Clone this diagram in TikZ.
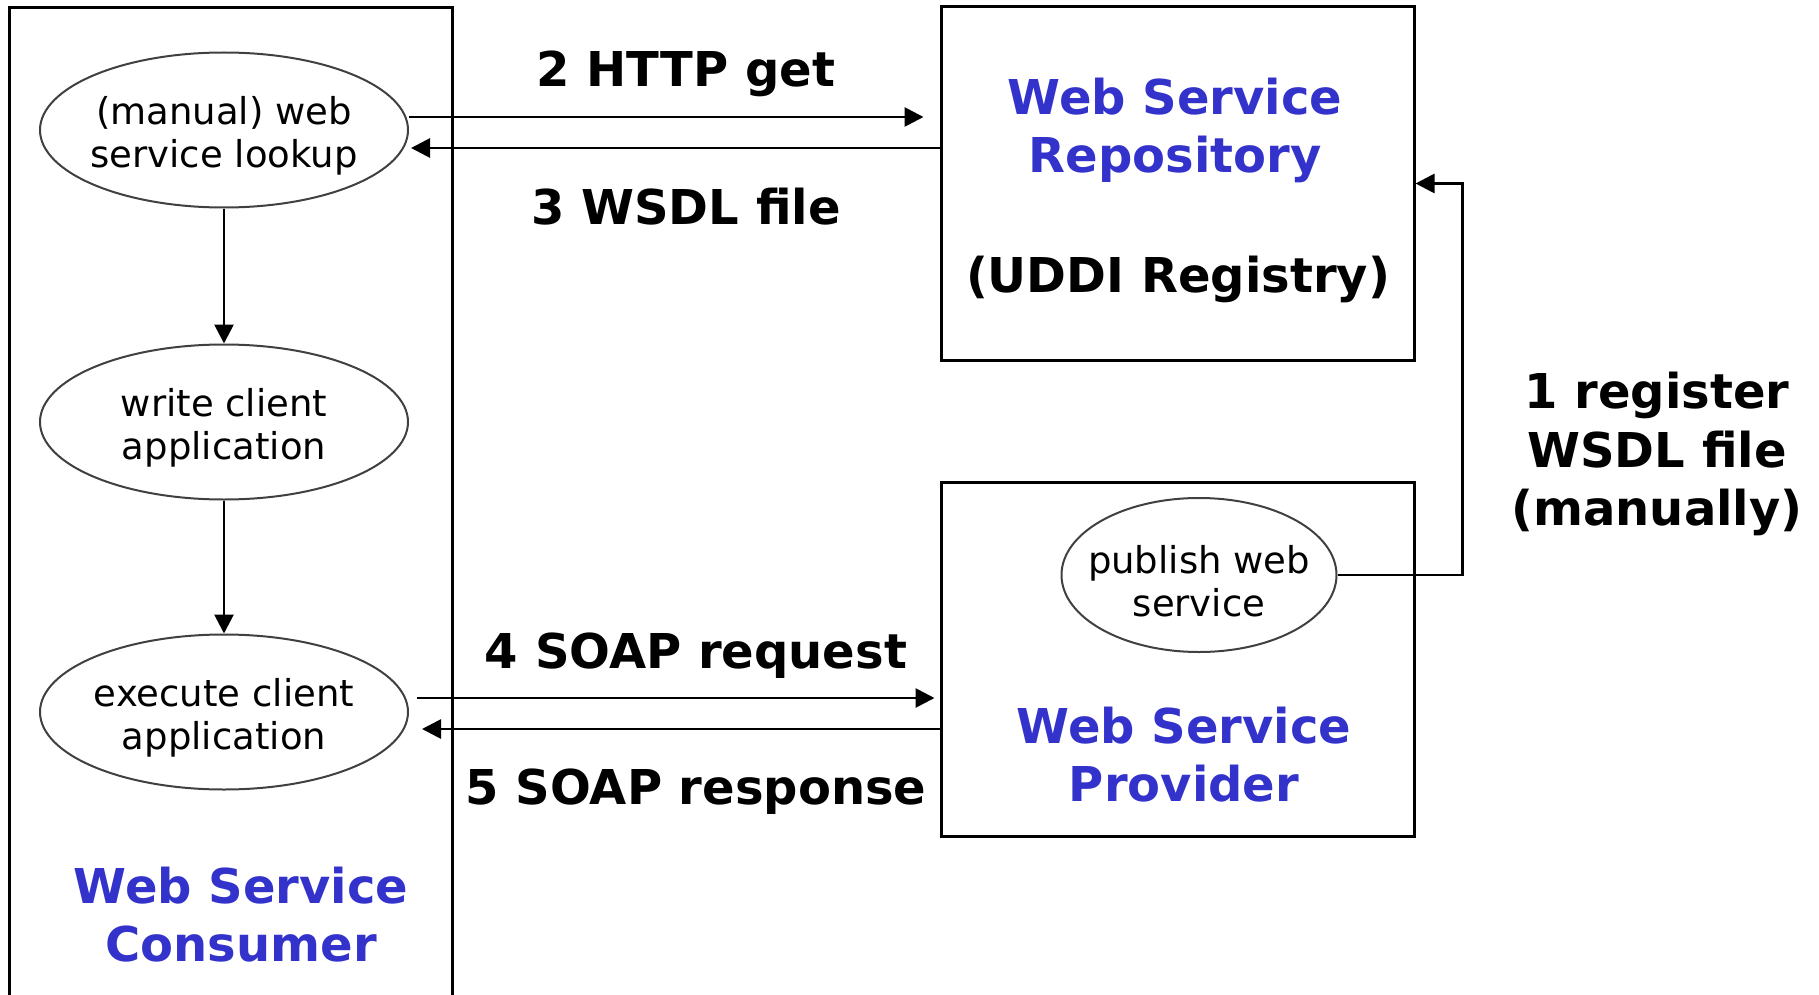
\documentclass[tikz,border=0pt]{standalone}
\usepackage{fontspec}
\setmainfont{DejaVu Sans}
\usetikzlibrary{arrows.meta,shapes.geometric,calc}
\definecolor{wsblue}{RGB}{51,51,204}
\newcommand{\lift}{\rule{0pt}{40pt}}
\tikzset{
  box/.style={draw, line width=3pt, rectangle, inner sep=0pt},
  task/.style={draw=black!75, line width=2pt, ellipse, inner ysep=0pt, inner xsep=-20pt, align=center,
    font=\fontsize{37}{43}\selectfont},
  arr/.style={line width=2.8pt, -{Triangle[length=19pt,width=19pt]}},
  flow/.style={font=\bfseries\fontsize{48}{58}\selectfont, anchor=base, inner sep=0pt},
  title/.style={font=\bfseries\fontsize{48}{58}\selectfont, text=wsblue, align=center, inner sep=0pt},
}
\begin{document}
\begin{tikzpicture}[x=1pt,y=-1pt]
\useasboundingbox (0,0) rectangle (1819,995);
% consumer container (open at the bottom)
\draw[line width=3pt] (9,995) -- (9,8) -- (452,8) -- (452,995);
\node[title] (constitle) at (241,915) {Web Service\\Consumer};
% consumer tasks
\node[task, minimum width=368pt, minimum height=155pt] (lookup) at (224,130) {\lift(manual) web\\service lookup};
\node[task, minimum width=368pt, minimum height=155pt] (write) at (224,422) {\lift write client\\application};
\node[task, minimum width=368pt, minimum height=155pt] (exec) at (224,712) {\lift execute client\\application};
% repository
\node[box, minimum width=473pt, minimum height=353pt] (repo) at (1177.5,183.5) {};
\node[title] (repotitle) at (1175,130) {Web Service\\Repository};
\node[flow] (uddi) at (1178,292) {(UDDI Registry)};
% provider
\node[box, minimum width=473pt, minimum height=354pt] (prov) at (1177.5,659) {};
\node[task, minimum width=275pt, minimum height=154pt] (publish) at (1199,575) {\lift publish web\\service};
\node[title] (provtitle) at (1184,755) {Web Service\\Provider};
% connectors
\draw[arr] (lookup.south) -- (write.north);
\draw[arr] (write.south) -- (exec.north);
\draw[arr, shorten >=16pt] ([yshift=13pt]lookup.east) -- ([yshift=66.5pt]repo.west);
\draw[arr] ([yshift=35.5pt]repo.west) -- ([xshift=2pt,yshift=-18pt]lookup.east);
\draw[arr, shorten >=5pt] ([xshift=8pt,yshift=14pt]exec.east) -- ([yshift=-39pt]prov.west);
\draw[arr] ([yshift=-70pt]prov.west) -- ([xshift=13pt,yshift=-17pt]exec.east);
\draw[arr] (publish.east) -| ([xshift=47pt]repo.east) -- (repo.east);
% labels
\node[flow] (l2) at (686,87) {2 HTTP get};
\node[flow] (l3) at (686,224) {3 WSDL file};
\node[flow] (l4) at (696,668) {4 SOAP request};
\node[flow] (l5) at (696,804) {5 SOAP response};
\node[font=\bfseries\fontsize{48}{58.5}\selectfont, align=center, inner sep=0pt] (l1) at (1657,454) {1 register\\WSDL file\\(manually)};
\end{tikzpicture}
\end{document}
